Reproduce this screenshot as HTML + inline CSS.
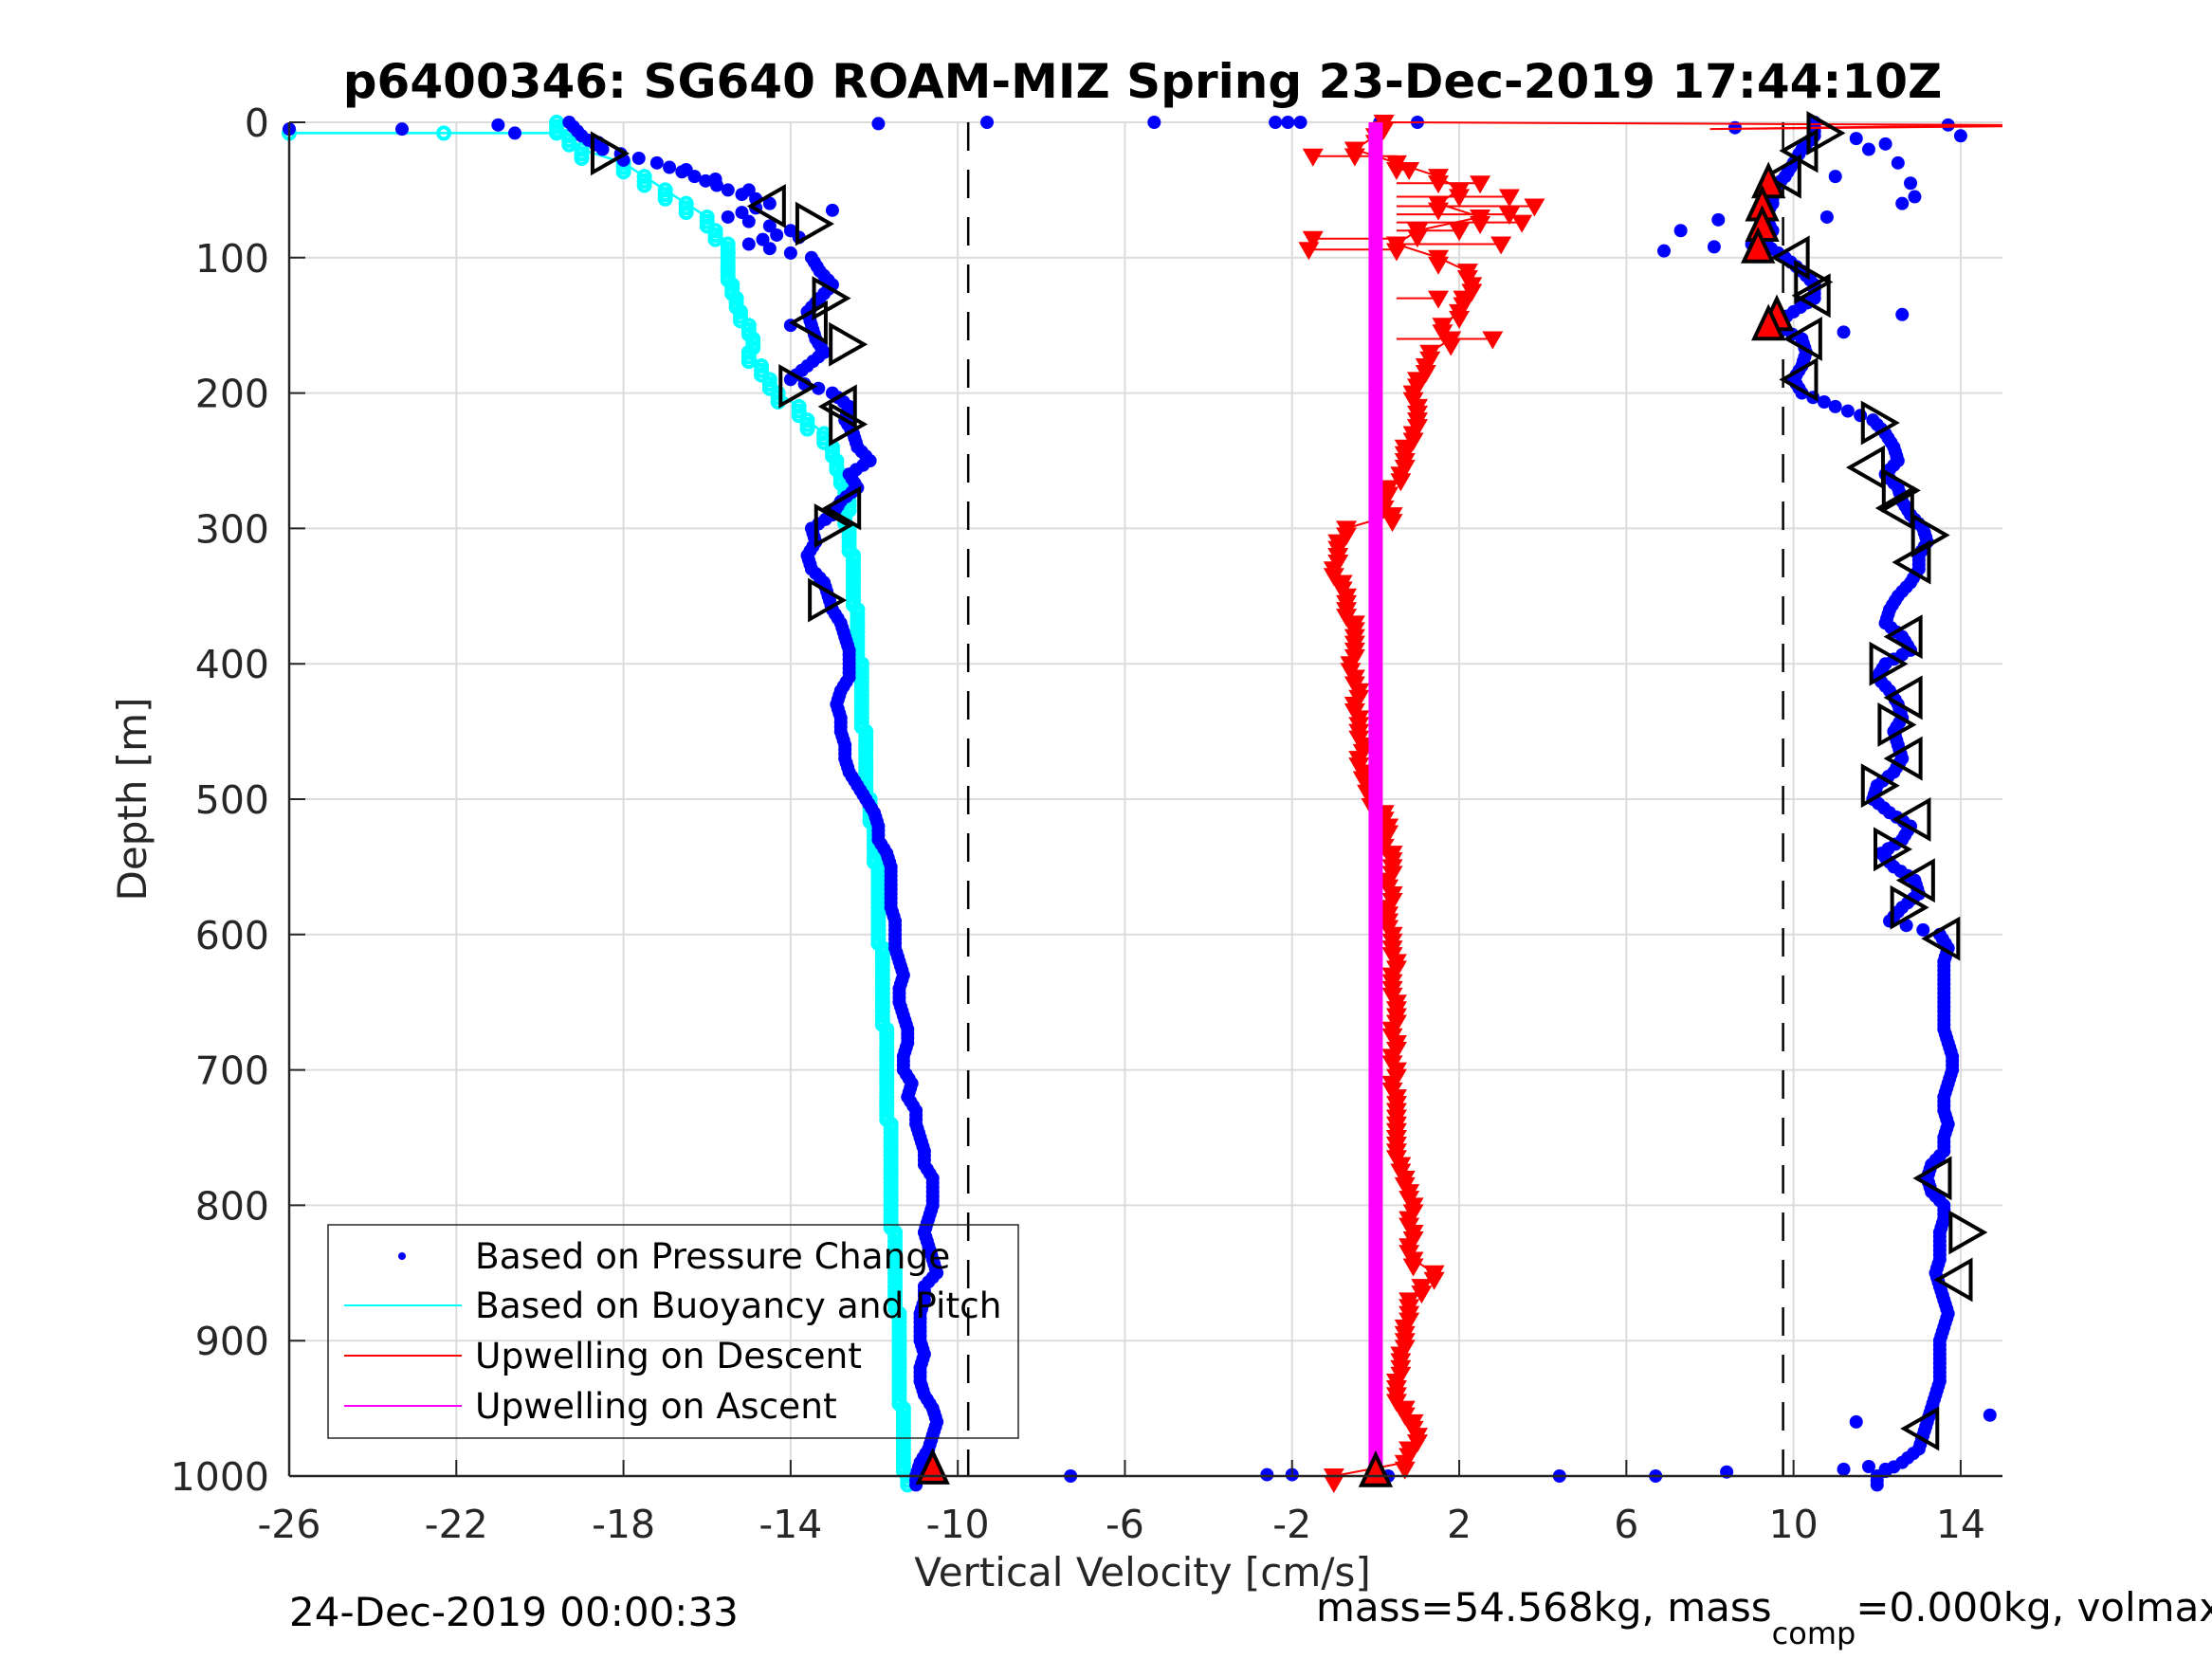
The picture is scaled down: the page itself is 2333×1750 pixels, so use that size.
<!DOCTYPE html>
<html><head><meta charset="utf-8"><style>
html,body{margin:0;padding:0;background:#fff}
svg{display:block}
text{font-family:"DejaVu Sans","Liberation Sans",sans-serif}
</style></head><body>
<svg id="chart" width="2333" height="1750" viewBox="0 0 2333 1750" xmlns="http://www.w3.org/2000/svg">
<rect width="2333" height="1750" fill="#fff"/>
<g id="grid"></g>
<g id="plot"></g>
<g id="axes"></g>
<text x="1205" y="103" text-anchor="middle" font-size="50" font-weight="bold" fill="#000">p6400346: SG640 ROAM-MIZ Spring 23-Dec-2019 17:44:10Z</text>
<text x="1205" y="1673" text-anchor="middle" font-size="42" fill="#262626">Vertical Velocity [cm/s]</text>
<text transform="translate(154,843) rotate(-90)" text-anchor="middle" font-size="42" fill="#262626">Depth [m]</text>
<text x="305" y="1715" font-size="42" fill="#000">24-Dec-2019 00:00:33</text>
<text x="1388" y="1710" font-size="42" fill="#000">mass=54.568kg, mass<tspan font-size="32" dy="24">comp</tspan><tspan dy="-24">=0.000kg, volmax=53640cc</tspan></text>
<g id="legend">
<rect x="346" y="1292" width="728" height="225" fill="none" stroke="#262626" stroke-width="1.5"/>
<circle cx="424" cy="1325" r="4" fill="#0000ff"/>
<text x="501" y="1338" font-size="37.5" fill="#000">Based on Pressure Change</text>
<line x1="363" y1="1377" x2="487" y2="1377" stroke="#00ffff" stroke-width="2"/>
<text x="501" y="1390" font-size="37.5" fill="#000">Based on Buoyancy and Pitch</text>
<line x1="363" y1="1430" x2="487" y2="1430" stroke="#ff0000" stroke-width="2"/>
<text x="501" y="1443" font-size="37.5" fill="#000">Upwelling on Descent</text>
<line x1="363" y1="1483" x2="487" y2="1483" stroke="#ff00ff" stroke-width="2"/>
<text x="501" y="1496" font-size="37.5" fill="#000">Upwelling on Ascent</text>
</g>
</svg>
<script>
const depths=[0,10,20,30,40,50,60,70,80,90,100,110,120,130,140,150,160,170,180,190,200,210,220,230,240,250,260,270,280,290,300,310,320,330,340,350,360,370,380,390,400,410,420,430,440,450,460,470,480,490,500,510,520,530,540,550,560,570,580,590,600,610,620,630,640,650,660,670,680,690,700,710,720,730,740,750,760,770,780,790,800,810,820,830,840,850,860,870,880,890,900,910,920,930,940,950,960,970,980,990,1000];
const descentVel=[-19.3,-19,-18.5,-17.2,-16.3,-15.5,-14.5,-15.5,-14,-15,-13.5,-13.3,-13.0,-13.3,-13.6,-13.5,-13.4,-13.2,-13.6,-14,-13,-12.6,-12.7,-12.5,-12.4,-12.1,-12.6,-12.4,-12.8,-13,-13.5,-13.4,-13.6,-13.5,-13.2,-13.1,-13,-12.8,-12.7,-12.6,-12.6,-12.6,-12.8,-12.9,-12.8,-12.8,-12.7,-12.7,-12.6,-12.4,-12.2,-12.0,-11.9,-11.9,-11.7,-11.6,-11.6,-11.6,-11.6,-11.5,-11.5,-11.5,-11.4,-11.3,-11.4,-11.4,-11.3,-11.2,-11.2,-11.3,-11.3,-11.1,-11.2,-11.0,-11.0,-10.9,-10.8,-10.8,-10.6,-10.6,-10.6,-10.7,-10.8,-10.7,-10.6,-10.5,-10.8,-10.8,-10.9,-10.9,-10.9,-10.8,-10.9,-10.9,-10.8,-10.6,-10.5,-10.6,-10.7,-10.9,-11.0];
const ascentVel=[10.5,10.5,10.2,10.0,9.8,9.5,9.5,9.3,9.5,9.3,9.8,10.2,10.5,10.5,10.0,9.5,10.2,10.3,10.2,10.0,10.2,11.0,11.9,12.2,12.4,12.5,12.2,12.5,12.6,12.8,13.1,13.2,13.0,13.0,12.8,12.5,12.3,12.2,12.6,12.8,12.2,12.0,12.3,12.5,12.6,12.4,12.5,12.6,12.4,12.0,11.9,12.3,12.8,12.6,12.1,12.4,12.9,13.0,12.6,12.3,13.5,13.7,13.6,13.6,13.6,13.6,13.6,13.6,13.7,13.8,13.8,13.7,13.6,13.6,13.7,13.6,13.6,13.3,13.2,13.3,13.6,13.6,13.5,13.5,13.5,13.4,13.5,13.6,13.7,13.6,13.5,13.5,13.5,13.5,13.4,13.3,13.2,13.1,13.0,12.6,12.0];
const buoyVel=[-19.6,-19.3,-19,-18,-17.5,-17,-16.5,-16,-15.8,-15.5,-15.5,-15.5,-15.4,-15.3,-15.2,-15.0,-14.9,-15,-14.7,-14.5,-14.3,-13.8,-13.6,-13.2,-13.0,-12.9,-12.8,-12.7,-12.6,-12.7,-12.6,-12.6,-12.5,-12.5,-12.5,-12.5,-12.4,-12.4,-12.4,-12.4,-12.3,-12.3,-12.3,-12.3,-12.3,-12.2,-12.2,-12.2,-12.2,-12.2,-12.1,-12.1,-12.0,-12.0,-12.0,-11.9,-11.9,-11.9,-11.9,-11.9,-11.9,-11.8,-11.8,-11.8,-11.8,-11.8,-11.8,-11.7,-11.7,-11.7,-11.7,-11.7,-11.7,-11.7,-11.6,-11.6,-11.6,-11.6,-11.6,-11.6,-11.6,-11.6,-11.5,-11.5,-11.5,-11.5,-11.5,-11.5,-11.4,-11.4,-11.4,-11.4,-11.4,-11.4,-11.4,-11.3,-11.3,-11.3,-11.3,-11.3,-11.2];
const buoyTopDepth=[8,8,8];
const buoyTopVel=[-26,-22.3,-19.6];
const upDescentVel=[0.2,0,-0.5,0.5,1.5,2,1.5,2.5,1,0.5,1.5,2.2,2.3,2.1,2.0,1.6,1.8,1.3,1.2,1.0,0.9,1.0,1.0,0.9,0.7,0.7,0.6,0.3,0.2,0.4,-0.7,-0.9,-0.9,-1.0,-0.8,-0.7,-0.7,-0.5,-0.5,-0.5,-0.6,-0.5,-0.4,-0.5,-0.4,-0.4,-0.3,-0.4,-0.3,-0.2,-0.1,0.2,0.3,0.2,0.4,0.4,0.3,0.4,0.3,0.3,0.4,0.4,0.5,0.4,0.4,0.5,0.5,0.4,0.5,0.4,0.5,0.4,0.5,0.5,0.5,0.5,0.5,0.6,0.7,0.8,0.9,0.8,0.9,0.8,0.9,1.4,1.1,0.8,0.8,0.7,0.7,0.6,0.6,0.5,0.5,0.7,0.9,1.0,0.8,0.7,-1];
const upTopDepth=[3,5,2];
const upTopVel=[15,8,15];
const upSpikeDepth=[25,35,45,55,62,68,74,80,86,90,94,130,160];
const upSpikeVel=[-1.5,0.8,2.5,3.2,3.8,3.2,3.5,2.0,-1.5,3,-1.6,1.5,2.8];
const upAscentDepth=[0,1000];
const upAscentVel=[0,0];
const scatterDepth=[5,5,2,8,1,0,0,0,0,0,0,0,1000,999,999,1000,1000,1000,997,995,995,993,2,10,16,95,92,80,72,60,55,45,90,4,20,30,155,142,960,955,35,42,50,65,28,15,85,150,12,40,70];
const scatterVel=[-26,-23.3,-21,-20.6,-11.9,-9.3,-5.3,-2.4,-2.1,-1.8,1,0.1,-7.3,-2.6,-2.0,0.3,4.4,6.7,8.4,11.2,12.2,11.8,13.7,14,12.2,6.9,8.1,7.3,8.2,12.6,12.9,12.8,9.0,8.6,11.8,12.5,11.2,12.6,11.5,14.7,-16.5,-15.8,-15.0,-13.0,-18.0,-18.6,-13.8,-14.0,11.5,11.0,10.8];
const markerDepth=[23,62,75,130,148,164,195,210,223,285,298,353,8,21,40,100,118,128,160,190,222,255,272,285,305,325,380,400,425,445,470,490,515,537,560,580,603,780,820,855,965];
const markerVel=[-18.4,-14.5,-13.5,-13.1,-13.5,-12.7,-13.9,-12.8,-12.7,-12.7,-13.05,-13.2,10.7,10.2,9.8,10,10.4,10.5,10.3,10.2,12.0,11.8,12.5,12.5,13.2,12.9,12.7,12.2,12.7,12.4,12.7,12.0,12.9,12.3,13.0,12.7,13.6,13.4,14.1,13.9,13.1];
const markerDir=["r","l","r","r","l","r","r","l","r","l","r","r","r","l","l","l","r","l","l","l","r","l","r","l","r","l","l","r","l","r","l","r","l","r","l","r","l","l","r","l","l"];
const turnDepth=[45,62,77,93,143,150,995,997];
const turnVel=[9.4,9.25,9.25,9.15,9.6,9.4,-10.6,0];
const xTicks=[-26,-22,-18,-14,-10,-6,-2,2,6,10,14];
const yTicks=[0,100,200,300,400,500,600,700,800,900,1000];
const dashedVel=[-9.75,9.75];

const X0=305,X1=2112,Y0=129,Y1=1557,XMIN=-26,XMAX=15,DMIN=0,DMAX=1000;
function sx(v){return X0+(v-XMIN)/(XMAX-XMIN)*(X1-X0);}
function sy(d){return Y0+(d-DMIN)/(DMAX-DMIN)*(Y1-Y0);}
const NS="http://www.w3.org/2000/svg";
function mk(tag,attrs,parent){const e=document.createElementNS(NS,tag);for(const k in attrs)e.setAttribute(k,attrs[k]);parent.appendChild(e);return e;}
const grid=document.getElementById('grid'),plot=document.getElementById('plot'),axes=document.getElementById('axes');

xTicks.forEach(t=>{
 const g=mk('line',{x1:sx(t),x2:sx(t),y1:Y0,y2:Y1,stroke:'#dcdcdc','stroke-width':2},grid);
 
 
 const tk=mk('line',{x1:sx(t),x2:sx(t),y1:Y1,y2:Y1-17,stroke:'#262626','stroke-width':2},axes);
 
 
 const lb=mk('text',{x:sx(t),y:1622,'text-anchor':'middle','font-size':41,fill:'#262626'},axes);
 lb.textContent=t;
 
 
});
yTicks.forEach(t=>{
 const g=mk('line',{x1:X0,x2:X1,y1:sy(t),y2:sy(t),stroke:'#dcdcdc','stroke-width':2},grid);
 
 
 const tk=mk('line',{x1:X0,x2:X0+17,y1:sy(t),y2:sy(t),stroke:'#262626','stroke-width':2},axes);
 
 
 const lb=mk('text',{x:284,y:sy(t)+15,'text-anchor':'end','font-size':41,fill:'#262626'},axes);
 lb.textContent=t;
 
 
});
const ax1=mk('line',{x1:X0,x2:X0,y1:Y0,y2:Y1,stroke:'#262626','stroke-width':2.5},axes);


const ax2=mk('line',{x1:X0,x2:X1,y1:Y1,y2:Y1,stroke:'#262626','stroke-width':2.5},axes);



dashedVel.forEach(v=>{
 const l=mk('line',{x1:sx(v),x2:sx(v),y1:Y0,y2:Y1,stroke:'#000','stroke-width':2.5,'stroke-dasharray':'30 20'},plot);
 
 
});

let cp=buoyTopVel.map((v,i)=>sx(v)+','+sy(buoyTopDepth[i]));
depths.forEach((d,i)=>cp.push(sx(buoyVel[i])+','+sy(d)));
const cl=mk('polyline',{points:cp.join(' '),fill:'none',stroke:'#00ffff','stroke-width':2.5},plot);


buoyTopVel.forEach((v,i)=>{
 const c=mk('circle',{cx:sx(v),cy:sy(buoyTopDepth[i]),r:6,fill:'none',stroke:'#00ffff','stroke-width':4},plot);
 
 
});
depths.forEach((d,i)=>{for(let k=0;k<3;k++){
 const c=mk('circle',{cx:sx(buoyVel[i]),cy:sy(d)+k*4.7,r:6,fill:'none',stroke:'#00ffff','stroke-width':4},plot);
 
 
}});

function dots(vals,name){depths.forEach((d,i)=>{
 const nxt=i+1<vals.length?vals[i+1]:vals[i];
 for(let k=0;k<3;k++){
  const v=vals[i]+(nxt-vals[i])*k/3;
  const c=mk('circle',{cx:sx(v),cy:sy(d)+k*4.7,r:7,fill:'#0000ff'},plot);
  
  
 }
});}
dots(descentVel,'pressure-descent-point');
dots(ascentVel,'pressure-ascent-point');
scatterVel.forEach((v,i)=>{
 const c=mk('circle',{cx:sx(v),cy:sy(scatterDepth[i]),r:7,fill:'#0000ff'},plot);
 
 
});

let rp=upTopVel.map((v,i)=>sx(v)+','+sy(upTopDepth[i]));
depths.forEach((d,i)=>rp.push(sx(upDescentVel[i])+','+sy(d)));
const rl=mk('polyline',{points:rp.join(' '),fill:'none',stroke:'#ff0000','stroke-width':2},plot);


upSpikeVel.forEach((v,i)=>{
 const y=sy(upSpikeDepth[i]);
 const l=mk('line',{x1:sx(0.5),x2:sx(v),y1:y,y2:y,stroke:'#ff0000','stroke-width':2},plot);
 
 
 const t=mk('polygon',{points:`${sx(v)-11},${y-8} ${sx(v)+11},${y-8} ${sx(v)},${y+11}`,fill:'#ff0000'},plot);
 
 
});
depths.forEach((d,i)=>{for(let k=0;k<2;k++){
 const x=sx(upDescentVel[i]),y=sy(d)+k*7;
 const t=mk('polygon',{points:`${x-11},${y-8} ${x+11},${y-8} ${x},${y+11}`,fill:'#ff0000'},plot);
 
 
}});

const ml=mk('line',{x1:sx(upAscentVel[0]),x2:sx(upAscentVel[1]),y1:sy(upAscentDepth[0]),y2:sy(upAscentDepth[1]),stroke:'#ff00ff','stroke-width':15},plot);



markerVel.forEach((v,i)=>{
 const x=sx(v),y=sy(markerDepth[i]);
 const pts=markerDir[i]==='r'?`${x-15},${y-20} ${x+20},${y} ${x-15},${y+20}`:`${x+15},${y-20} ${x-20},${y} ${x+15},${y+20}`;
 const t=mk('polygon',{points:pts,fill:'none',stroke:'#000','stroke-width':4},plot);
 
 
});
turnVel.forEach((v,i)=>{
 const x=sx(v),y=sy(turnDepth[i]);
 const t=mk('polygon',{points:`${x-15},${y+14} ${x+15},${y+14} ${x},${y-18}`,fill:'#ff0000',stroke:'#000','stroke-width':4},plot);
 
 
});
</script>
</body></html>
